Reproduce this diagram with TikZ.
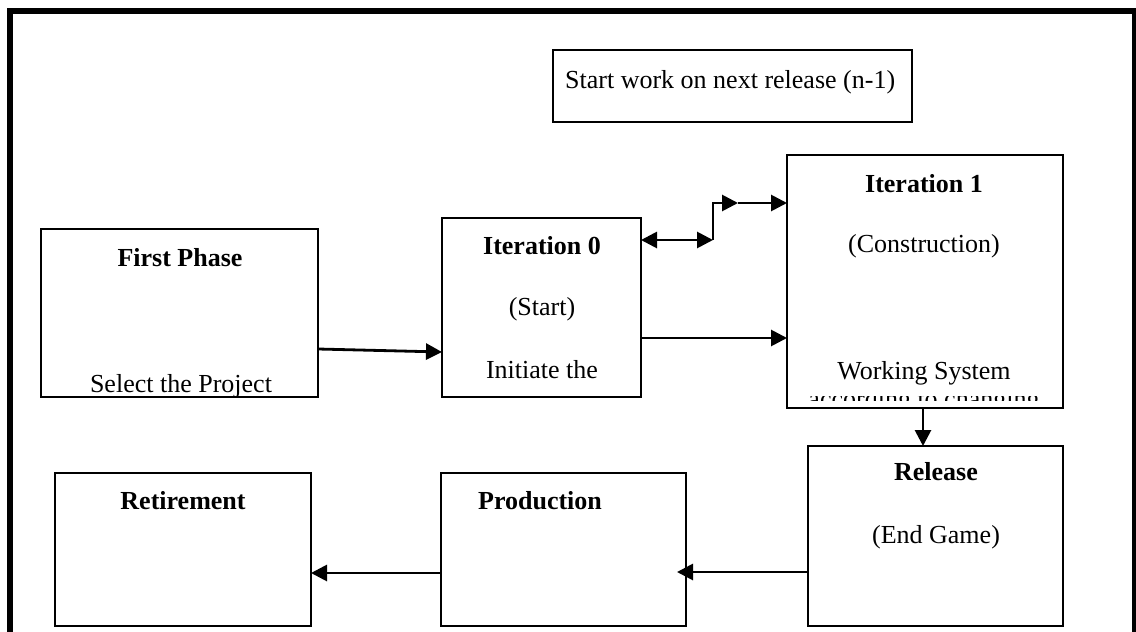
\documentclass[tikz,border=0pt]{standalone}
\usepackage{fontspec}
\setmainfont{Liberation Serif}
\usetikzlibrary{arrows.meta}
\begin{document}
\begin{tikzpicture}[x=1pt,y=-1pt,
  box/.style={draw, line width=2.2pt, inner sep=0pt, outer sep=0pt},
  lbl/.style={inner sep=0pt, anchor=base, font=\fontsize{26}{30}\selectfont},
  ttl/.style={lbl, font=\fontsize{26}{30}\selectfont\bfseries},
  arr/.style={line width=2.8pt, -{Triangle[length=16pt,width=16pt]}},
  dblarr/.style={line width=2.8pt, {Triangle[length=16pt,width=16pt]}-{Triangle[length=16pt,width=16pt]}},
]
\useasboundingbox (0,0) rectangle (1136,632);

% outer frame, open at the bottom
\begin{scope}
  \clip (0,0) rectangle (1136,632);
  \draw[line width=5.5pt] (10,660) -- (10,11) -- (1135,11) -- (1135,660);
\end{scope}

% phase boxes
\node[box, minimum width=359pt, minimum height=72pt]  (sw)   at (732.5,86) {};
\node[box, minimum width=277pt, minimum height=168pt] (fp)   at (179.5,313) {};
\node[box, minimum width=199pt, minimum height=179pt] (it0)  at (541.5,307.5) {};
\node[box, minimum width=276pt, minimum height=253pt] (it1)  at (925,281.5) {};
\node[box, minimum width=255pt, minimum height=180pt] (rel)  at (935.5,536) {};
\node[box, minimum width=245pt, minimum height=153pt] (prod) at (563.5,549.5) {};
\node[box, minimum width=256pt, minimum height=153pt] (ret)  at (183,549.5) {};

% labels
\node[lbl, anchor=base west] (swt) at (565,88) {Start work on next release (n-1)};
\node[ttl] (fpt)  at (180,266) {First Phase};
\node[lbl] (fpd)  at (181,392) {Select the Project};
\node[ttl] (it0t) at (542,254) {Iteration 0};
\node[lbl] (it0s) at (542,315) {(Start)};
\node[lbl] (it0d) at (542,378) {Initiate the};
\node[ttl] (it1t) at (924,192) {Iteration 1};
\node[lbl] (it1s) at (924,252) {(Construction)};
\node[lbl] (it1d) at (924,379) {Working System};
% second line of the description, cut off by the box
\begin{scope}
  \clip (790,396.5) rectangle (1060,400);
  \node[lbl] (it1e) at (924,407.5) {according to changing};
\end{scope}
\node[ttl] (relt) at (936,480) {Release};
\node[lbl] (rels) at (936,543) {(End Game)};
\node[ttl] (prodt) at (540,509) {Production};
\node[ttl] (rett) at (183,509) {Retirement};

% connectors
\coordinate (k1) at (713,240);
\coordinate (k2) at (738,203);
\coordinate (pt) at (677,572);
\draw[arr] (fp.east |- 0,349) -- (it0.west |- 0,352);
\draw[arr] (it0.east |- 0,338) -- (it1.west |- 0,338);
\draw[dblarr] (it0.east |- k1) -- (k1);
\draw[arr] (k1) -- (k1 |- k2) -- (k2);
\draw[arr] (k2) -- (it1.west |- k2);
\draw[arr] (it1.south -| 923,0) -- (rel.north -| 923,0);
\draw[arr] (rel.west |- pt) -- (pt);
\draw[arr] (prod.west |- 0,573) -- (ret.east |- 0,573);
\end{tikzpicture}
\end{document}
